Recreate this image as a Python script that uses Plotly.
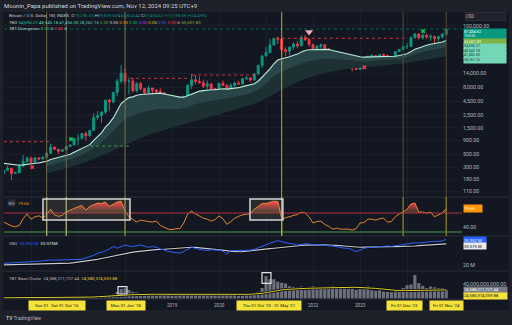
import plotly.graph_objects as go

# ---------------------------------------------------------------------------
# Monthly BTC/USD bars, Jun 2015 .. Nov 2024.  Month index: 0 = Jan 2015.
# ---------------------------------------------------------------------------
months = list(range(5, 119))

opens = [
    230, 263, 284, 230, 236, 314, 378,
    430, 368, 437, 416, 448, 531, 673, 624, 575, 609, 700, 745,
    963, 970, 1190, 1080, 1350, 2300, 2480, 2875, 4700, 4340, 6450, 10230,
    14150, 10220, 10300, 6930, 9240, 7490, 6400, 7730, 7030, 6630, 6370, 4040,
    3740, 3460, 3850, 4100, 5320, 8570, 10820, 10080, 9600, 8300, 9150, 7560,
    7190, 9350, 8540, 6410, 8630, 9450, 9140, 11350, 11660, 10780, 13800, 19700,
    28950, 33110, 45140, 58800, 57720, 37300, 35040, 41460, 47130, 43790, 61320, 57000,
    46200, 38470, 43190, 45540, 37640, 31800, 19930, 23300, 20050, 19430, 20490, 17170,
    16550, 23140, 23150, 28470, 29270, 27220, 30480, 29230, 25940, 26970, 34650, 37720,
    42280, 42580, 61130, 71330, 60640, 67490, 62680, 64630, 58970, 63330, 70236.03,
]
highs = [
    268, 315, 285, 247, 334, 495, 465,
    462, 448, 440, 467, 548, 780, 703, 627, 614, 720, 757, 980,
    1150, 1210, 1290, 1350, 2760, 2980, 2920, 4740, 4980, 6470, 11400, 19800,
    17250, 11800, 11700, 9770, 9990, 7760, 8500, 7760, 7400, 7680, 6560, 4340,
    4110, 4200, 4120, 5600, 9070, 13880, 13200, 12330, 10920, 10500, 9510, 7750,
    9570, 10500, 9190, 9460, 10070, 10380, 11440, 12470, 12100, 14100, 19860, 29300,
    41950, 58350, 61780, 64850, 59500, 41330, 42320, 50500, 52920, 66990, 69000, 59040,
    47990, 45800, 48190, 47440, 39980, 31960, 24650, 25200, 22800, 21080, 21480, 18390,
    23960, 25250, 29190, 31000, 29830, 31400, 31850, 30200, 27480, 35200, 38420, 44730,
    48970, 64000, 73780, 72800, 72000, 71950, 70000, 65100, 66500, 73600, 89609.50,
]
lows = [
    221, 254, 175, 225, 235, 298, 350,
    351, 363, 395, 412, 435, 514, 605, 515, 570, 608, 679, 745,
    750, 935, 890, 1060, 1340, 2100, 1830, 2670, 2970, 4110, 5500, 9400,
    9200, 5900, 6450, 6430, 7030, 5780, 6080, 5880, 6100, 6200, 3650, 3150,
    3400, 3400, 3690, 4070, 5320, 7450, 9070, 9320, 7730, 7420, 6530, 6430,
    6870, 8440, 3860, 6150, 8110, 8940, 8990, 10950, 9880, 10440, 13200, 17600,
    28130, 32300, 44950, 47000, 30000, 28800, 29280, 37330, 39600, 43300, 53260, 42000,
    32920, 34300, 37160, 37700, 26700, 17600, 18780, 19600, 18150, 18200, 15480, 16260,
    16500, 21400, 19550, 26950, 25810, 24800, 28860, 25160, 24900, 26550, 34100, 37620,
    38550, 41880, 59300, 56500, 56600, 58400, 53500, 49000, 52550, 58900, 66824.44,
]
closes = [
    263, 284, 230, 236, 314, 378, 430,
    368, 437, 416, 448, 531, 673, 624, 575, 609, 700, 745, 963,
    970, 1190, 1080, 1350, 2300, 2480, 2875, 4700, 4340, 6450, 10230, 14150,
    10220, 10300, 6930, 9240, 7490, 6400, 7730, 7030, 6630, 6370, 4040, 3740,
    3460, 3850, 4100, 5320, 8570, 10820, 10080, 9600, 8300, 9150, 7560, 7190,
    9350, 8540, 6410, 8630, 9450, 9140, 11350, 11660, 10780, 13800, 19700, 28950,
    33110, 45140, 58800, 57720, 37300, 35040, 41460, 47130, 43790, 61320, 57000, 46200,
    38470, 43190, 45540, 37640, 31800, 19930, 23300, 20050, 19430, 20490, 17170, 16550,
    23140, 23150, 28470, 29270, 27220, 30480, 29230, 25940, 26970, 34650, 37720, 42280,
    42580, 61130, 71330, 60640, 67490, 62680, 64630, 58970, 63330, 70290, 87434.62,
]

# TBO fast line (white), one value per bar
tbo_fast = [
    350, 344, 333, 324, 323, 328, 338,
    341, 350, 356, 365, 381, 409, 429, 443, 459, 482, 507, 550,
    590, 647, 689, 752, 899, 1049, 1223, 1554, 1819, 2260, 3019, 4079,
    4663, 5200, 5365, 5734, 5901, 5948, 6118, 6205, 6245, 6257, 6046, 5826,
    5601, 5434, 5307, 5309, 5619, 6114, 6492, 6788, 6932, 7143, 7183, 7183,
    7390, 7499, 7395, 7513, 7697, 7835, 8169, 8502, 8719, 9202, 10202, 11987,
    13998, 16962, 20945, 24446, 25670, 26562, 27980, 29803, 31135, 34008, 36197, 37149,
    37275, 37838, 38571, 38483, 37847, 36141, 34918, 33503, 32163, 31052, 29730, 28476,
    27968, 27509, 27601, 27759, 27708, 27972, 28092, 27887, 27800, 28452, 29334, 30567,
    31710, 34511, 38016, 40170, 42771, 44666, 46567, 47748, 49231, 51236, 54696.27,
]
tbo_second = 48543.18   # second TBO line, last value

# TBO cloud edges, every second bar from May 2016
cloud_months = list(range(16, 119, 2))
tbo_mid = [
    308, 342, 369, 405, 462, 530, 650, 822, 1101, 1574,
    2153, 2489, 2786, 2999, 3191, 3258, 3228, 3243, 3483, 3953,
    4274, 4529, 4786, 4966, 5260, 5662, 6152, 7096, 9078, 12388,
    15136, 17061, 19231, 22182, 23605, 25119, 25645, 25061, 24434, 23659,
    23226, 23335, 23659, 24099, 24266, 25351, 27040, 30761, 33810, 36308,
    38194, 41456.50,
]
tbo_slow = [
    230, 250, 272, 298, 330, 368, 415, 475, 550, 640,
    740, 860, 990, 1120, 1260, 1390, 1510, 1640, 1800, 1990,
    2190, 2400, 2630, 2860, 3120, 3420, 3800, 4300, 5000, 6000,
    7300, 8600, 9900, 11300, 12600, 13900, 15000, 15900, 16700, 17300,
    17900, 18500, 19000, 19500, 20100, 20800, 21700, 23000, 24500, 25800,
    27000, 28262.16,
]
tbo_signal = 65607.89

rsi = [
    51, 47, 43, 41, 44, 58, 68,
    57, 62, 64, 60, 66, 78, 66, 63, 65, 72, 76, 80,
    83, 86, 76, 84, 87, 91, 90, 93, 84, 88, 93, 95,
    74, 62, 56, 51, 55, 53, 52, 51, 53, 44, 40, 36,
    35, 37, 37, 49, 68, 74, 68, 64, 59, 57, 53, 56,
    64, 58, 46, 52, 59, 63, 66, 67, 69, 78, 84, 90,
    90, 93, 95, 94, 58, 60, 62, 65, 67, 72, 70, 62,
    49, 52, 53, 46, 42, 36, 38, 36, 36, 36, 34, 37,
    49, 50, 57, 57, 55, 58, 59, 51, 52, 62, 68, 72,
    78, 89, 91, 72, 72, 70, 72, 62, 66, 70, 79.65,
]

# On-balance volume and its smoothing, millions
obv = [
    21.0, 21.2, 21.1, 21.3, 21.5, 21.6, 21.8,
    22.0, 22.2, 22.3, 22.6, 22.9, 23.1, 23.0, 23.0, 23.1, 23.1, 23.2, 23.3,
    23.4, 23.5, 24.2, 25.1, 26.0, 27.2, 28.0, 28.7, 30.0, 31.5, 30.4, 31.5,
    32.4, 31.8, 31.4, 32.0, 32.4, 31.6, 31.0, 31.4, 31.0, 30.0, 29.0, 28.5,
    28.0, 27.6, 27.3, 28.5, 30.0, 31.0, 30.2, 29.6, 29.3, 29.0, 29.5, 29.3,
    29.3, 28.5, 26.8, 28.9, 29.0, 28.9, 28.9, 28.9, 29.2, 29.7, 30.5, 31.4,
    32.5, 33.5, 34.5, 35.1, 34.5, 33.8, 33.3, 33.0, 32.4, 32.8, 33.2, 33.0,
    32.6, 32.8, 32.4, 32.2, 31.9, 31.8, 31.2, 30.6, 30.4, 30.4, 29.6, 28.2,
    29.5, 30.4, 30.8, 31.0, 31.4, 31.2, 31.5, 31.8, 31.6, 32.0, 32.4, 32.8,
    33.0, 33.5, 33.8, 33.6, 34.0, 34.4, 34.5, 34.6, 34.7, 34.9, 35.952,
]
obv_ma = [
    20.0, 20.05, 20.1, 20.15, 20.2, 20.25, 20.3,
    20.35, 20.4, 20.45, 20.5, 20.6, 20.7, 20.8, 20.85, 20.9, 21.0, 21.2, 21.4,
    21.7, 22.0, 22.4, 22.8, 23.1, 23.5, 24.0, 24.5, 25.0, 25.5, 26.0, 26.6,
    27.3, 27.7, 28.0, 28.3, 28.6, 28.9, 29.1, 29.3, 29.5, 29.6, 29.8, 29.9,
    30.1, 30.3, 30.5, 30.7, 30.9, 31.0, 30.9, 30.7, 30.5, 30.3, 30.1, 29.9,
    29.6, 29.3, 28.9, 28.5, 28.2, 28.2, 28.3, 28.5, 28.7, 28.9, 29.2, 29.5,
    29.8, 30.1, 30.4, 30.7, 31.0, 31.3, 31.5, 31.7, 31.9, 32.1, 32.3, 32.4,
    32.4, 32.5, 32.5, 32.5, 32.4, 32.4, 32.2, 32.0, 31.8, 31.5, 31.3, 31.0,
    31.0, 31.1, 31.2, 31.3, 31.4, 31.4, 31.4, 31.4, 31.4, 31.4, 31.4, 31.5,
    31.6, 31.7, 31.8, 32.0, 32.2, 32.4, 32.5, 32.6, 32.8, 32.95, 33.075,
]

# Base/quote volume, billions, and its moving average
volume = [
    0.6, 0.7, 0.8, 0.9, 0.6, 1.0, 1.8,
    1.2, 1.0, 0.9, 0.8, 1.0, 1.8, 1.5, 1.2, 1.1, 1.2, 1.5, 1.8,
    3.0, 2.8, 3.5, 3.5, 5.0, 7.0, 7.0, 8.0, 9.0, 12.0, 19.0, 27.0,
    29.0, 24.0, 19.0, 17.0, 15.0, 12.0, 11.0, 10.0, 9.0, 9.5, 12.0, 11.0,
    9.0, 9.0, 10.0, 13.0, 15.0, 16.0, 14.0, 12.0, 10.0, 10.0, 10.0, 9.0,
    10.0, 11.0, 15.0, 11.0, 10.0, 8.0, 9.0, 10.0, 11.0, 12.0, 19.0, 30.0,
    64.0, 55.0, 55.0, 48.0, 45.0, 43.0, 35.0, 33.0, 32.0, 34.0, 31.0, 33.0,
    35.0, 30.0, 33.0, 30.0, 34.0, 36.0, 33.0, 30.0, 33.0, 28.0, 34.0, 25.0,
    30.0, 29.0, 35.0, 24.0, 22.0, 24.0, 20.0, 19.0, 18.0, 26.0, 27.0, 30.0,
    38.0, 40.0, 67.0, 44.0, 36.0, 30.0, 34.0, 32.0, 30.0, 30.0, 24.588,
]
volume_ma = [
    2.0, 2.0, 2.1, 2.1, 2.2, 2.2, 2.3,
    2.3, 2.4, 2.4, 2.5, 2.5, 2.6, 2.7, 2.8, 2.9, 3.0, 3.1, 3.2,
    3.3, 3.5, 3.7, 4.0, 4.3, 4.7, 5.1, 5.6, 6.2, 7.0, 7.8, 8.7,
    9.6, 10.4, 11.0, 11.5, 11.9, 12.1, 12.2, 12.2, 12.1, 12.0, 12.0, 11.9,
    11.8, 11.7, 11.6, 11.6, 11.6, 11.7, 11.7, 11.7, 11.6, 11.5, 11.4, 11.3,
    11.3, 11.4, 11.6, 11.7, 11.8, 11.8, 11.9, 12.0, 12.2, 12.6, 13.5, 14.8,
    16.5, 18.8, 21.0, 23.0, 24.6, 25.8, 26.8, 27.5, 28.0, 28.5, 28.9, 29.3,
    29.7, 30.0, 30.3, 30.6, 30.9, 31.2, 31.5, 31.7, 31.9, 32.0, 32.0, 31.9,
    31.6, 31.2, 30.7, 30.0, 29.0, 27.8, 26.5, 25.2, 24.0, 23.0, 22.5, 22.3,
    22.5, 23.0, 24.0, 24.6, 25.0, 25.2, 25.3, 25.3, 25.2, 25.0, 24.58,
]

# Marked dates (month index) and their labels
event_months = [16, 21, 36, 76, 107, 118]
year_ticks = [48, 60, 84, 96]
year_labels = ["2019", "2020", "2022", "2023"]
price_ticks = [110, 180, 300, 500, 900, 1500, 2500, 4500, 8000, 14000, 100000]

# TBO level lines: (price, first month, last month, colour)
levels = [
    (850, 5.1, 16.8, "#f23645"),
    (711, 27.1, 37.3, "#4caf50"),
    (11500, 37.3, 51.8, "#f23645"),
    (13180, 53.1, 69.4, "#f23645"),
    (59650, 74.5, 107.7, "#f23645"),
]

# ---------------------------------------------------------------------------
# page geometry (pixels) -> paper coordinates
# ---------------------------------------------------------------------------
PL, PR, PT, PB = 4, 462, 12, 299


def px(x):
    return (x - PL) / (PR - PL)


def py(y):
    return (PB - y) / (PB - PT)


BG = "#131722"
TEXT = "#b2b5be"
FONT = "Roboto, Arial, sans-serif"
UP, DOWN = "#089981", "#f23645"

fig = go.Figure()

# --- price pane -----------------------------------------------------------
fig.add_trace(go.Scatter(x=cloud_months, y=tbo_slow, mode="lines",
                         line=dict(width=0), yaxis="y", hoverinfo="skip"))
fig.add_trace(go.Scatter(x=cloud_months, y=tbo_mid, mode="lines",
                         line=dict(width=0), fill="tonexty",
                         fillcolor="#1d3034", yaxis="y", hoverinfo="skip"))
i0 = months.index(16)
fig.add_trace(go.Scatter(x=months[i0:], y=tbo_fast[i0:], mode="lines",
                         line=dict(width=0), fill="tonexty",
                         fillcolor="#2a4547", yaxis="y", hoverinfo="skip"))

for price, m0, m1, col in levels:
    fig.add_trace(go.Scatter(x=[m0, m1], y=[price, price], mode="lines",
                             line=dict(color=col, width=1, dash="dot"),
                             opacity=0.8, yaxis="y", hoverinfo="skip"))

fig.add_trace(go.Scatter(x=months, y=tbo_fast, mode="lines",
                         line=dict(color="#b8ecdc", width=1.1),
                         yaxis="y", hoverinfo="skip"))

fig.add_trace(go.Candlestick(
    x=months, open=opens, high=highs, low=lows, close=closes,
    increasing=dict(line=dict(color=UP, width=1), fillcolor=UP),
    decreasing=dict(line=dict(color=DOWN, width=1), fillcolor=DOWN),
    whiskerwidth=0, yaxis="y", hoverinfo="skip"))

# signal marks
fig.add_trace(go.Scatter(x=[22.2, 112.1], y=[949, 80500], mode="markers",
                         marker=dict(symbol="x", size=4, color="#00c853"),
                         yaxis="y", hoverinfo="skip"))
fig.add_trace(go.Scatter(x=[12.3, 97.1], y=[300, 18100], mode="markers",
                         marker=dict(symbol="x", size=4, color="#f23645"),
                         yaxis="y", hoverinfo="skip"))
fig.add_trace(go.Scatter(x=[83], y=[77300], mode="markers",
                         marker=dict(symbol="triangle-down", size=7, color="#f7a8b6"),
                         yaxis="y", hoverinfo="skip"))

# --- RSI pane -------------------------------------------------------------
rsi_hot = [max(v, 70.0) for v in rsi]
fig.add_trace(go.Scatter(x=months, y=[70.0] * len(months), mode="lines",
                         line=dict(width=0), yaxis="y2", hoverinfo="skip"))
fig.add_trace(go.Scatter(
    x=months, y=rsi_hot, mode="lines", line=dict(width=0), fill="tonexty",
    fillgradient=dict(type="vertical", start=70, stop=90,
                      colorscale=[[0, "rgba(90,80,50,0.5)"],
                                  [1, "rgba(242,54,69,1)"]]),
    yaxis="y2", hoverinfo="skip"))
fig.add_trace(go.Scatter(x=months, y=rsi, mode="lines",
                         line=dict(color="#e8872a", width=1),
                         yaxis="y2", hoverinfo="skip"))

# --- OBV pane -------------------------------------------------------------
fig.add_trace(go.Scatter(x=months, y=obv_ma, mode="lines",
                         line=dict(color="#05070c", width=3),
                         yaxis="y3", hoverinfo="skip"))
fig.add_trace(go.Scatter(x=months, y=obv_ma, mode="lines",
                         line=dict(color="#c9cbd1", width=1.2),
                         yaxis="y3", hoverinfo="skip"))
fig.add_trace(go.Scatter(x=months, y=obv, mode="lines",
                         line=dict(color="#2962ff", width=1),
                         yaxis="y3", hoverinfo="skip"))

# --- volume pane ----------------------------------------------------------
fig.add_trace(go.Bar(x=months, y=volume, marker=dict(color="#6e717c", line=dict(width=0)),
                     width=0.8, yaxis="y4", hoverinfo="skip"))
fig.add_trace(go.Scatter(x=months, y=volume_ma, mode="lines",
                         line=dict(color="#05070c", width=2.6),
                         yaxis="y4", hoverinfo="skip"))
fig.add_trace(go.Scatter(x=months, y=volume_ma, mode="lines",
                         line=dict(color="#e3cf2b", width=1),
                         yaxis="y4", hoverinfo="skip"))

# ---------------------------------------------------------------------------
# axes
# ---------------------------------------------------------------------------
def fmt_price(v):
    return f"{v:,.2f}"


yax_common = dict(side="right", anchor="x", zeroline=False, showline=False,
                  ticks="", tickfont=dict(size=5.3, color=TEXT, family=FONT),
                  fixedrange=True)

fig.update_layout(
    xaxis=dict(range=[5.106, 122.03], showticklabels=False, ticks="",
               tickvals=[12, 24, 36, 48, 60, 72, 84, 96, 108],
               showgrid=True, gridcolor="#1b1f2b", zeroline=False,
               showline=False, rangeslider=dict(visible=False)),
    yaxis=dict(domain=[0.3554, 1.0], type="log", range=[1.9417, 5.2453],
               tickvals=price_ticks, ticktext=[fmt_price(v) for v in price_ticks],
               showgrid=True, gridcolor="#1b1f2b", **yax_common),
    yaxis2=dict(domain=[0.2195, 0.3554], range=[21.58, 103.68],
                tickvals=[40], ticktext=["40.00"], showgrid=False, **yax_common),
    yaxis3=dict(domain=[0.0976, 0.2195], range=[16.26, 38.0],
                tickvals=[20], ticktext=["20 M"], showgrid=False, **yax_common),
    yaxis4=dict(domain=[0.0, 0.0976], range=[-1.43, 78.6],
                tickvals=[40], ticktext=["40,000,000,000.00"], showgrid=False, **yax_common),
)

# ---------------------------------------------------------------------------
# shapes: background, pane borders, date lines, boxes
# ---------------------------------------------------------------------------
shapes = [
    dict(type="rect", xref="paper", yref="paper", x0=px(3), x1=px(509),
         y0=py(310), y1=py(12), fillcolor=BG, line=dict(width=0), layer="below"),
]
for y in (197, 236, 271, 299):
    shapes.append(dict(type="line", xref="paper", yref="paper", x0=px(3), x1=px(509),
                       y0=py(y), y1=py(y), line=dict(color="#2a2e39", width=1)))

# overbought / oversold guides
shapes.append(dict(type="line", xref="paper", yref="y2", x0=0, x1=1, y0=70, y1=70,
                   line=dict(color="#b3303d", width=1)))
shapes.append(dict(type="line", xref="paper", yref="y2", x0=0, x1=1, y0=30, y1=30,
                   line=dict(color="#43a047", width=1)))

# current price line
shapes.append(dict(type="line", xref="paper", yref="y", x0=0, x1=1,
                   y0=closes[-1], y1=closes[-1],
                   line=dict(color="rgba(8,153,129,0.55)", width=1, dash="dot")))

event_colors = ["#6e6a48", "#6e6a48", "#7a7440", "#c9a70a", "#574d33", "#574d33"]
event_rsi_colors = ["#a7a276", "#a7a276", "#8d8645", "#c9a70a", "#877a2c", "#877a2c"]
for m, c_main, c_rsi in zip(event_months, event_colors, event_rsi_colors):
    shapes.append(dict(type="line", xref="x", yref="paper", x0=m, x1=m,
                       y0=0.3554, y1=1.0, line=dict(color=c_main, width=1)))
    shapes.append(dict(type="line", xref="x", yref="paper", x0=m, x1=m,
                       y0=0.2195, y1=0.3554, line=dict(color=c_rsi, width=1.4)))

# highlighted RSI windows
for m0, m1 in ((15.06, 37.27), (67.9, 76.3)):
    shapes.append(dict(type="rect", xref="x", yref="y2", x0=m0, x1=m1, y0=55.3, y1=99.5,
                       fillcolor="rgba(160,150,110,0.16)",
                       line=dict(color="#d6d6d6", width=1.5)))

# highlighted volume bars
for m0, m1, v0, v1 in ((34.2, 36.5, 12.9, 33.7), (70.97, 73.27, 43.4, 73.7)):
    shapes.append(dict(type="rect", xref="x", yref="y4", x0=m0, x1=m1, y0=v0, y1=v1,
                       fillcolor="rgba(0,0,0,0)",
                       line=dict(color="#e0e0e0", width=1.2)))

fig.update_layout(shapes=shapes)

# ---------------------------------------------------------------------------
# text
# ---------------------------------------------------------------------------
ann = []


def text(x, y, s, size=4.4, color=TEXT, anchor="left", **kw):
    ann.append(dict(xref="paper", yref="paper", x=px(x), y=py(y), text=s,
                    showarrow=False, xanchor=anchor, yanchor="middle",
                    font=dict(size=size, color=color, family=FONT), **kw))


def tag(y0, y1, s, bg, fg, x=463, w=42, size=4.6):
    ann.append(dict(xref="paper", yref="paper", x=px(x), y=py((y0 + y1) / 2),
                    text=s, showarrow=False, xanchor="left", yanchor="middle",
                    width=w, height=y1 - y0, bgcolor=bg, borderpad=0, align="left",
                    font=dict(size=size, color=fg, family=FONT)))


def col(s, c):
    return f"<span style='color:{c}'>{s}</span>"


text(2, 5.5, "Moonin_Papa published on TradingView.com, Nov 12, 2024 09:25 UTC+9",
     size=6, color="#d1d4dc")

chg = closes[-1] - opens[-1]
pct = chg / opens[-1] * 100
G = "#089981"
row1 = ("Bitcoin / U.S. Dollar, 1M, INDEX  "
        + "O" + col(f"{opens[-1]:,.2f}", G) + " H" + col(f"{highs[-1]:,.2f}", G)
        + " L" + col(f"{lows[-1]:,.2f}", G) + " C" + col(f"{closes[-1]:,.2f}", G)
        + " " + col(f"+{chg:,.2f} (+{pct:.2f}%)", G))
text(7, 15.5, row1, color="#c3c6ce")

zero_cols = ["#4caf50", "#d1d4dc", "#ff9800", "#00c853", "#c03bd6", "#e0c31a", "#2962ff", "#f23645"]
row2 = ("TBO " + col(f"{tbo_fast[-1]:,.2f}", "#26c6a0") + " "
        + col(f"{tbo_second:,.2f}", "#5fd3b3") + " "
        + col(f"{tbo_mid[-1]:,.2f}", "#5fd3b3") + " "
        + col(f"{tbo_slow[-1]:,.2f}", "#5fd3b3") + " "
        + " ".join(col("0.00", c) for c in zero_cols)
        + " ⊘ " + col(f"{tbo_signal:,.2f}", "#7cb342"))
text(7, 22.5, row2, color="#c3c6ce")
text(7, 29, "TBT Divergence " + col("0.00", "#4caf50") + " ⊘ " + col("0.00", "#f23645") + " ⊘",
     color="#c3c6ce")

# pane legends
ann.append(dict(xref="paper", yref="paper", x=px(7), y=py(203), text="RSI",
                showarrow=False, xanchor="left", yanchor="middle", bgcolor="#2a2e39",
                borderpad=0.5, font=dict(size=4.2, color=TEXT, family=FONT)))
text(16, 203, f"{rsi[-1]:.2f}", color="#ff9800")
text(7, 243, "OBV  " + col(f"{obv[-1]:.3f} M", "#2962ff") + "  " + col(f"{obv_ma[-1]:.3f}M", "#e0e3eb"))
text(7, 278, "TBT Base/Quote  24,588,211,727.44  " + col("24,580,374,059.88", "#e3cf2b"))

# right scale tags (one box per row, stacked)
ann.append(dict(xref="paper", yref="paper", x=px(465), y=py(16), text="USD",
                showarrow=False, xanchor="left", yanchor="middle", width=40, height=8,
                bgcolor="#1e222d", bordercolor="#363a45", borderwidth=0.6, borderpad=0,
                align="left", font=dict(size=4.6, color=TEXT, family=FONT)))
tag(29.3, 34.3, f"{closes[-1]:,.2f}", UP, "#ffffff", size=3.9)
tag(34.3, 38.8, "19d 0h", UP, "#e0f2ef", size=3.7)
tag(38.8, 44.3, f"{tbo_signal:,.2f}", "#7cb342", "#f1f8e9", size=3.9)
mint_rows = (tbo_fast[-1], tbo_second, tbo_mid[-1], tbo_slow[-1])
for k, v in enumerate(mint_rows):
    y0 = 44.3 + 4.55 * k
    tag(y0, y0 + 4.55, f"{v:,.2f}", "#74d6b6", "#10443a", size=3.6)
tag(205.5, 212, f"{rsi[-1]:.2f}", "#ff9800", "#ffffff", w=18, size=4.2)
tag(237, 243, f"{obv[-1]:.3f} M", "#2962ff", "#ffffff", w=22, size=4.2)
tag(243.3, 249.3, f"{obv_ma[-1]:.3f} M", "#e8eaed", "#131722", w=22, size=4.2)
tag(287, 292.8, "24,588,211,727.44", "#787b86", "#ffffff", w=43, size=4.2)
tag(293.1, 299, "24,580,374,059.88", "#f5e33b", "#131722", w=43, size=4.2)

# time scale
for m, s in zip(year_ticks, year_labels):
    text(-16 + 3.917 * m, 305.5, s, size=4.6, anchor="center")


def date_box(x0, x1, s):
    ann.append(dict(xref="paper", yref="paper", x=px((x0 + x1) / 2), y=py(305.5),
                    text=s, showarrow=False, xanchor="center", yanchor="middle",
                    width=x1 - x0, height=9, bgcolor="#f5e33b", borderpad=0,
                    font=dict(size=4.4, color="#131722", family=FONT)))


date_box(29, 85, "Sun 01 \u2009\u2009Sat 01 Oct '16")
date_box(107, 145, "Mon 01 Jan '18")
date_box(237, 301, "Thu 01 Oct '20 : 01 May '21")
date_box(387, 422, "Fri 01 Dec '23")
date_box(430, 463, "Fri 01 Nov '24")

text(4, 318, "<b>TV</b> TradingView", size=5, color="#b2b5be")

fig.update_layout(
    annotations=ann,
    width=512, height=325, autosize=False,
    margin=dict(l=PL, r=512 - PR, t=PT, b=325 - PB, pad=0),
    paper_bgcolor="#1e2129", plot_bgcolor=BG,
    showlegend=False, bargap=0.2,
    font=dict(family=FONT, color=TEXT),
)

fig.write_html("out.html", config=dict(displayModeBar=False))
